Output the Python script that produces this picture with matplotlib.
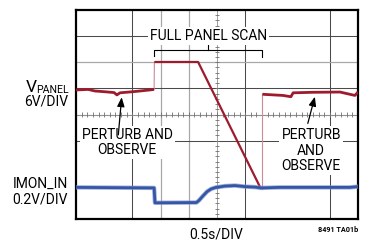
import matplotlib
matplotlib.use("Agg")
import matplotlib.pyplot as plt
import numpy as np

# screen divisions: 10 across (0.5 s each), 8 high
VPANEL_A_X = [0.0, 0.43, 0.67, 1.03, 1.35, 1.45, 1.56, 2.09, 2.62, 2.77]
VPANEL_A_Y = [4.94, 4.96, 4.90, 4.87, 4.84, 4.75, 4.83, 4.88, 4.94, 4.96]
VPANEL_B_X = [2.78, 4.33, 6.56]
VPANEL_B_Y = [6.01, 6.01, 1.15]
VPANEL_C_X = [6.61, 6.67, 7.34, 7.62, 7.70, 8.40, 9.36, 9.89, 10.0]
VPANEL_C_Y = [4.78, 4.77, 4.73, 4.68, 4.83, 4.85, 4.86, 4.73, 4.86]

IMON_X = [0.0, 2.77, 2.80, 4.27, 4.36, 4.50, 4.65, 4.79, 4.96, 5.28,
          5.64, 5.99, 6.35, 6.56, 7.23, 8.65, 9.72, 10.0]
IMON_Y = [1.21, 1.19, 0.62, 0.63, 0.71, 0.88, 1.05, 1.15, 1.21, 1.26,
          1.28, 1.24, 1.22, 1.19, 1.21, 1.21, 1.21, 1.24]

SCAN_START = 2.78
SCAN_END = 6.61

RED = "#9e1b2e"
BLUE = "#3556a8"
FONT = ["Roboto", "DejaVu Sans"]

W, H = 365, 240


def fx(px):
    return px / W


def fy(py):
    return 1 - py / H


plt.rcParams["font.family"] = FONT

fig = plt.figure(figsize=(W / 100, H / 100), dpi=100)
ax = fig.add_axes([fx(76), fy(219), (358 - 76) / W, (219 - 10) / H])
ax.set_xlim(0, 10)
ax.set_ylim(0, 8)
ax.set_xticks([])
ax.set_yticks([])
for s in ax.spines.values():
    s.set_linewidth(1.6)
    s.set_color("black")

# graticule
for x in [2, 6, 9]:
    ax.axvline(x, color="#4a4a4a", lw=0.75, zorder=1)
for x in [3, 4]:
    ax.axvline(x, color="#a8a8a8", lw=0.9, zorder=1)
for y in [7, 5, 3]:
    ax.axhline(y, color="#4a4a4a", lw=0.75, zorder=1)
ax.axhline(6, color="#a8a8a8", lw=0.9, zorder=1)
ax.axvline(5, color="#909090", lw=0.6, zorder=1)
ax.axhline(4, color="#909090", lw=0.8, zorder=1)
ticks_x = np.arange(0.2, 10, 0.2)
ax.vlines(ticks_x, 3.9, 4.1, color="#707070", lw=0.6, zorder=1)
ticks_y = np.arange(0.2, 8, 0.2)
ax.hlines(ticks_y, 4.92, 5.08, color="#707070", lw=0.6, zorder=1)

# traces
ax.plot(VPANEL_A_X, VPANEL_A_Y, color=RED, lw=2.0, zorder=4,
        solid_capstyle="butt")
ax.plot(VPANEL_B_X, VPANEL_B_Y, color=RED, lw=1.6, zorder=4,
        solid_capstyle="butt")
ax.plot(VPANEL_C_X, VPANEL_C_Y, color=RED, lw=2.0, zorder=4,
        solid_capstyle="butt")
ax.plot([VPANEL_A_X[-1], VPANEL_B_X[0]], [VPANEL_A_Y[-1], VPANEL_B_Y[0]],
        color="#d08a96", lw=0.8, zorder=3)
ax.plot([VPANEL_B_X[-1] + 0.05, VPANEL_C_X[0]], [VPANEL_B_Y[-1], VPANEL_C_Y[0]],
        color="#d08a96", lw=0.8, zorder=3)
ax.plot(IMON_X, IMON_Y, color="#7d93c8", lw=3.2, zorder=4, alpha=0.7)
ax.plot(IMON_X, IMON_Y, color=BLUE, lw=2.0, zorder=5)

# bracket over the scan
ax.plot([SCAN_START, SCAN_START, SCAN_END, SCAN_END], [6.24, 6.47, 6.47, 6.22],
        color="black", lw=0.8, zorder=6, clip_on=False)
mid = (SCAN_START + SCAN_END) / 2
ax.plot([mid, mid], [6.47, 6.74], color="black", lw=0.8, zorder=6)

box = dict(facecolor="white", edgecolor="none", pad=1.5)
fs = 10

ax.text(4.7, 7.0, "FULL PANEL SCAN", ha="center", va="center", fontsize=fs,
        bbox=box, zorder=7)
ax.text(1.82, 2.92, "PERTURB AND\nOBSERVE", ha="center", va="center",
        fontsize=fs, linespacing=1.1, bbox=box, zorder=7)
ax.text(8.34, 2.62, "PERTURB\nAND\nOBSERVE", ha="center", va="center",
        fontsize=fs, linespacing=1.1, bbox=box, zorder=7)

# arrows
ax.annotate("", xy=(1.62, 4.66), xytext=(1.50, 3.22),
            arrowprops=dict(arrowstyle="-|>,head_width=0.22,head_length=0.55",
                            color="black", lw=0.9, shrinkA=0, shrinkB=0),
            zorder=8)
ax.annotate("", xy=(8.47, 4.68), xytext=(8.22, 3.66),
            arrowprops=dict(arrowstyle="-|>,head_width=0.22,head_length=0.55",
                            color="black", lw=0.9, shrinkA=0, shrinkB=0),
            zorder=8)

# labels outside the screen
fig.text(fx(26), fy(92), "V", ha="left", va="baseline", fontsize=12.5)
fig.text(fx(36.5), fy(93), "PANEL", ha="left", va="baseline", fontsize=7.6)
fig.text(fx(68), fy(105), "6V/DIV", ha="right", va="baseline", fontsize=fs)
fig.text(fx(68), fy(188), "IMON_IN", ha="right", va="baseline", fontsize=fs)
fig.text(fx(68), fy(203.5), "0.2V/DIV", ha="right", va="baseline", fontsize=fs)
fig.text(fx(216.5), fy(238.5), "0.5s/DIV", ha="center", va="baseline",
         fontsize=fs)
fig.text(fx(358), fy(231.5), "8491 TA01b", ha="right", va="baseline",
         fontsize=5.2, fontweight="bold")

fig.savefig("out.png", dpi=100)
